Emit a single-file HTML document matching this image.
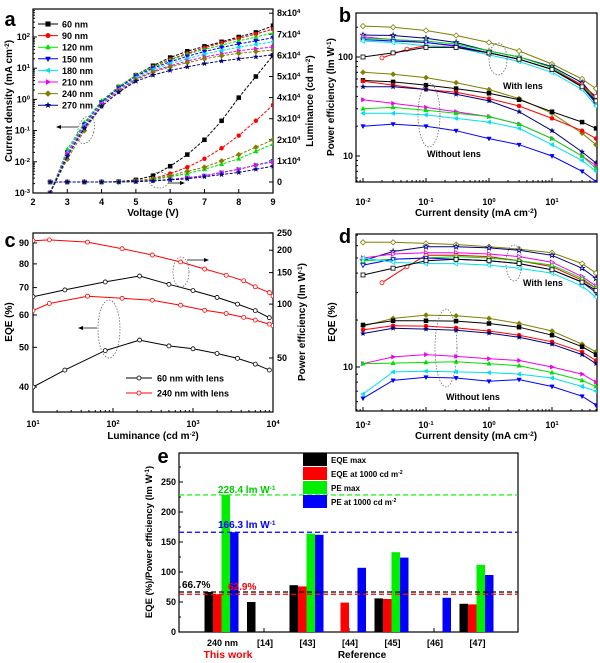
<!DOCTYPE html>
<html><head><meta charset="utf-8"><style>
body{margin:0;background:#fff;}
svg{display:block;font-family:"Liberation Sans",Arial,sans-serif;font-weight:bold;}
</style></head><body>
<svg id="fig" width="600" height="663" viewBox="0 0 600 663" xmlns="http://www.w3.org/2000/svg">
<defs>
<clipPath id="ca"><rect x="33" y="9" width="240" height="184"/></clipPath>
<clipPath id="cb"><rect x="356" y="13" width="241" height="169"/></clipPath>
<clipPath id="cc"><rect x="33" y="233" width="240" height="179"/></clipPath>
<clipPath id="cd"><rect x="356" y="234" width="241" height="177"/></clipPath>
</defs>
</svg>
<script>
// ---------- Panel a data ----------
const voltages=[2.5,3,3.5,4,4.5,5,5.5,6,6.5,7,7.5,8,8.5,9];
const thickLabels=["60 nm","90 nm","120 nm","150 nm","180 nm","210 nm","240 nm","270 nm"];
const jv60=[0.001,0.02,0.15,0.8,2.5,6,12,22,35,50,70,100,140,230];
const jv90=[0.001,0.02,0.15,0.8,2.5,6,11,19,30,45,65,90,125,180];
const jv120=[0.001,0.025,0.18,0.9,2.6,6,11,18,28,40,55,75,100,135];
const jv150=[0.001,0.02,0.16,0.8,2.3,5.5,10,16,24,34,46,60,75,95];
const jv180=[0.001,0.02,0.15,0.75,2.1,5,9,14,20,28,37,47,58,70];
const jv210=[0.001,0.018,0.13,0.7,2,4.5,8,12,17,23,29,36,42,48];
const jv240=[0.001,0.012,0.1,0.6,1.8,4.2,7.5,11,15,20,25,30,34,38];
const jv270=[0.001,0.015,0.12,0.6,1.7,3.8,6,8.5,11,14,17,20,23,27];
const lv60=[0,0,0,0,0.02,0.1,0.3,0.75,1.3,2.0,2.9,4.0,5.0,6.0];
const lv90=[0,0,0,0,0,0.05,0.15,0.4,0.7,1.1,1.6,2.2,2.9,3.65];
const lv120=[0,0,0,0,0,0.03,0.1,0.25,0.4,0.6,0.85,1.1,1.45,1.8];
const lv150=[0,0,0,0,0,0.02,0.06,0.12,0.2,0.3,0.45,0.6,0.8,1.0];
const lv180=[0,0,0,0,0,0.02,0.06,0.12,0.2,0.3,0.45,0.6,0.8,1.0];
const lv210=[0,0,0,0,0,0.02,0.06,0.12,0.2,0.3,0.45,0.6,0.8,0.95];
const lv240=[0,0,0,0,0,0.05,0.15,0.3,0.5,0.7,1.0,1.3,1.65,2.0];
const lv270=[0,0,0,0,0,0.02,0.05,0.1,0.15,0.25,0.35,0.45,0.6,0.75];
// ---------- Panel b data (PE, lm/W) ----------
const jStd=[0.01,0.03,0.1,0.3,1,3,10,30,50];
const jRed=[0.02,0.05,0.1,0.3,1,3,10,30,50];
const peOpenOlive=[205,200,185,165,140,115,85,60,48];
const peOpenNavy=[167,165,155,140,115,100,80,55,38];
const peOpenMag=[160,150,140,128,110,95,75,50,35];
const peOpenGreen=[155,150,145,135,115,100,78,52,37];
const peOpenRed=[98,120,130,125,110,95,75,52,40];
const peOpenBlue=[150,145,140,130,110,95,75,50,34];
const peOpenCyan=[145,140,130,125,105,90,70,47,32];
const peOpenBlack=[100,110,125,125,110,95,75,50,36];
const peFillOlive=[70,67,62,55,47,38,27,17,13];
const peFillBlack=[58,56,52,48,43,37,28,22,19];
const peFillRed=[57,52,47,44,38,32,24,18,15];
const peFillNavy=[50,50,47,42,36,28,18,11,8.5];
const peFillMag=[37,34,31,28,25,21,15,10,8];
const peFillGreen=[30,31,29,27,25,21,15,10,7.5];
const peFillCyan=[27,27,26,24,22,19,13,9,7];
const peFillBlue=[20,21,20,18,15,13,10,7,5.5];
// ---------- Panel c data ----------
const lum60=[10,25,80,215,500,1000,2000,3600,6000,9000];
const eqe60=[40,44,49.1,52.1,50.4,49.6,48.3,47,45.5,44];
const pe60=[110,120,133,143.5,129,119,109,100,92,84];
const lum240=[10,16,48,130,310,700,1400,2600,4300,6000,9000,10000];
const eqe240=[61.5,64,66.7,65.9,65.2,63.4,61.6,60.5,59.2,58.3,57,56.5];
const pe240=[226,228.4,222,204,188,172,157,145,135,125,116,111];
// ---------- Panel d data (EQE %) ----------
const eqOpenOlive=[63,63,62,61,59,57,54,46,40];
const eqOpenNavy=[48,55,59,59,58,56,52,43,37];
const eqOpenMag=[50,53,54,54,53,51,47,38,33];
const eqOpenRed=[34.7,44,52,52,51,48,44,36,32];
const eqOpenGreen=[48,49,50,51,50,48,45,37,32];
const eqOpenBlue=[45,49,50,49,48,46,42,35,30];
const eqOpenCyan=[50,47,46,46,45,43,40,33,28];
const eqOpenBlack=[38.9,43,48,49,48,46,42,35,31];
const eqFillOlive=[18.3,20.5,21.5,21.3,20.5,19,17,14,12.5];
const eqFillBlack=[18.6,19.8,19.8,19.7,19,18,16,13.5,12];
const eqFillRed=[17.3,18.4,18.3,17.8,17,16,14.5,12.5,11];
const eqFillNavy=[16.4,17.7,17.5,17.2,16.5,15.5,14,12,10.5];
const eqFillMag=[10.5,11.6,12,11.7,11.3,11,10,9,8];
const eqFillGreen=[10.5,10.6,10.7,10.8,10.5,10.2,9.2,8.2,7.5];
const eqFillCyan=[6.7,9.3,9.4,9.3,9.2,9,8.5,7.5,7];
const eqFillBlue=[6.3,8.2,8.6,8.5,8.1,8.3,7.5,6.5,5.7];
// ---------- Panel e data ----------
const refCats=["240 nm","[14]","[43]","[44]","[45]","[46]","[47]"];
const eqeMax=[66.7,50,78,null,56,null,47];
const eqe1000=[62.9,null,76,49,55,null,46];
const peMax=[228.4,null,164,null,133,null,112];
const pe1000=[166.3,null,162,107,124,57,95];
const refLines=[228.4,166.3,66.7,62.9];

const NS="http://www.w3.org/2000/svg";
const svg=document.getElementById('fig');
function E(tag,attrs,parent,text){const e=document.createElementNS(NS,tag);for(const k in attrs)e.setAttribute(k,attrs[k]);if(text!==undefined)e.textContent=text;(parent||svg).appendChild(e);return e;}
const L10=Math.log10;
// scales
const xA=v=>33+(v-2)*34.29, yAJ=j=>193-(L10(j)+3)*31.2, yAL=l=>182-l*21.1;
const xB=j=>363+(L10(j)+2)*63, yB=p=>156-(L10(p)-1)*99;
const xC=l=>33+(L10(l)-1)*80, yCE=e=>387-L10(e/40)*409, yCP=p=>358-L10(p/50)*179;
const yD=e=>367-L10(e/10)*156;
const yE=v=>632-v*0.6;

function marker(g,type,x,y,r,color,filled){
  const f=filled?color:'#fff';let m;
  if(type==='sq')m=E('rect',{x:x-r,y:y-r,width:2*r,height:2*r},g);
  else if(type==='ci')m=E('circle',{cx:x,cy:y,r:r},g);
  else{let p;
    if(type==='tu')p=[[0,-r*1.2],[r*1.1,r*.8],[-r*1.1,r*.8]];
    else if(type==='td')p=[[0,r*1.2],[r*1.1,-r*.8],[-r*1.1,-r*.8]];
    else if(type==='tl')p=[[-r*1.2,0],[r*.8,-r*1.1],[r*.8,r*1.1]];
    else if(type==='tr')p=[[r*1.2,0],[-r*.8,-r*1.1],[-r*.8,r*1.1]];
    else if(type==='di')p=[[0,-r*1.3],[r*1.3,0],[0,r*1.3],[-r*1.3,0]];
    else {p=[];for(let i=0;i<10;i++){const a=-Math.PI/2+i*Math.PI/5,rr=i%2?r*.5:r*1.3;p.push([rr*Math.cos(a),rr*Math.sin(a)]);}}
    m=E('polygon',{points:p.map(q=>(x+q[0]).toFixed(1)+','+(y+q[1]).toFixed(1)).join(' ')},g);}
  m.setAttribute('fill',f);m.setAttribute('stroke',color);m.setAttribute('stroke-width',filled?0.5:0.8);
  
  
}
function series(name,xs,ys,fx,fy,color,mk,filled,r,clip,dash){
  const g=E('g',{'clip-path':'url(#'+clip+')'});
  
  
  const pts=[];xs.forEach((x,i)=>{if(ys[i]!=null)pts.push([fx(x),fy(ys[i])]);});
  E('polyline',{points:pts.map(p=>p[0].toFixed(1)+','+p[1].toFixed(1)).join(' '),fill:'none',stroke:color,'stroke-width':1,'stroke-dasharray':dash||'none'},g);
  pts.forEach(p=>marker(g,mk,p[0],p[1],r,color,filled));
}
function frame(name,x,y,w,h){const r=E('rect',{x:x,y:y,width:w,height:h,fill:'none',stroke:'#000','stroke-width':1.2});}
function txt(name,x,y,s,size,opt){opt=opt||{};const t=E('text',Object.assign({x:x,y:y,'font-size':size,'text-anchor':opt.anchor||'middle',fill:opt.fill||'#000'},opt.rot?{transform:'rotate(-90 '+x+' '+y+')'}:{}));
  if(Array.isArray(s)){s.forEach(p=>{if(typeof p==='string')E('tspan',{},t,p);else E('tspan',{'baseline-shift':'super','font-size':size*0.65},t,p[0]);});}else t.textContent=s;return t;}
function tick(x1,y1,x2,y2){E('line',{x1:x1,y1:y1,x2:x2,y2:y2,stroke:'#000','stroke-width':1});}
function logMinor(lo,hi,f,axis,pos,dir){for(let d=lo;d<hi;d++)for(let k=2;k<=9;k++){const v=k*Math.pow(10,d);const p=f(v);if(axis==='x'){if(p>pos[1]&&p<pos[2])tick(p,pos[0],p,pos[0]+dir*2);}else{if(p>pos[1]&&p<pos[2])tick(pos[0],p,pos[0]+dir*2,p);}}}

const cols={k:'#000',r:'#f00',g:'#00e000',b:'#0000ff',c:'#00e0f0',m:'#f000f0',o:'#808000',n:'#000080'};

// ================= Panel a =================
txt('panel-label-a',10,26,'a',20,{});
frame('plot-frame-a',33,9,240,184);
[2,3,4,5,6,7,8,9].forEach(v=>{tick(xA(v),193,xA(v),189);txt('x-tick-a',xA(v),205,String(v),9);});
[-3,-2,-1,0,1,2].forEach(d=>{tick(33,yAJ(Math.pow(10,d)),37,yAJ(Math.pow(10,d)));txt('y-tick-a',30,yAJ(Math.pow(10,d))+3,['10',[String(d)]],9,{anchor:'end'});});
logMinor(-3,3,yAJ,'y',[33,9,193],1);
for(let l=0;l<=8;l++){tick(273,yAL(l),269,yAL(l));txt('y2-tick-a',277,yAL(l)+3,l===0?'0':[l+'x10',['4']],9,{anchor:'start'});}
txt('x-axis-title-a',153,216,'Voltage (V)',10);
txt('y-axis-title-a',12,101,['Current density (mA cm',['-2'],')'],10,{rot:1});
txt('y2-axis-title-a',313,101,['Luminance (cd m',['-2'],')'],10,{rot:1});
const aDefs=[[jv60,lv60,'k','sq'],[jv90,lv90,'r','ci'],[jv120,lv120,'g','tu'],[jv150,lv150,'b','td'],[jv180,lv180,'c','tl'],[jv210,lv210,'m','tr'],[jv240,lv240,'o','di'],[jv270,lv270,'n','st']];
aDefs.forEach((d,i)=>{
  series('jv-curve-'+thickLabels[i].replace(' ',''),voltages,d[0],xA,yAJ,cols[d[2]],d[3],true,2,'ca','3,1.5');
  series('lv-curve-'+thickLabels[i].replace(' ',''),voltages,d[1],xA,yAL,cols[d[2]],d[3],true,2,'ca','3,1.5');
  const ly=24+i*11.6;const lg=E('g',{});
  E('line',{x1:38,y1:ly,x2:58,y2:ly,stroke:cols[d[2]],'stroke-width':1},lg);marker(lg,d[3],48,ly,2.3,cols[d[2]],true);
  E('text',{x:62,y:ly+3.5,'font-size':9},lg,thickLabels[i]);
});
E('ellipse',{cx:86,cy:130,rx:8,ry:14,fill:'none',stroke:'#555','stroke-width':.7,'stroke-dasharray':'1.5,1.5',transform:'rotate(15 86 130)'});
E('line',{x1:78,y1:127,x2:58,y2:127,stroke:'#000','stroke-width':.8});E('polygon',{points:'56,127 61,125 61,129'});
E('ellipse',{cx:159,cy:180,rx:10,ry:8,fill:'none',stroke:'#555','stroke-width':.7,'stroke-dasharray':'1.5,1.5'});
E('line',{x1:168,y1:183,x2:183,y2:183,stroke:'#000','stroke-width':.8});E('polygon',{points:'185,183 180,181 180,185'});

// ================= Panel b =================
txt('panel-label-b',345,22,'b',20,{});
frame('plot-frame-b',356,13,241,169);
[-2,-1,0,1].forEach(d=>{const x=xB(Math.pow(10,d));tick(x,182,x,178);txt('x-tick-b',x,205,['10',[String(d)]],9);});
logMinor(-3,2,xB,'x',[182,356,597],-1);
[10,100].forEach(v=>{tick(356,yB(v),360,yB(v));txt('y-tick-b',353,yB(v)+3,String(v),9,{anchor:'end'});});
logMinor(0,3,yB,'y',[356,13,182],1);
txt('x-axis-title-b',476,216,['Current density (mA cm',['-2'],')'],10);
txt('y-axis-title-b',334,97,['Power efficiency (lm W',['-1'],')'],10,{rot:1});
const bOpen=[[peOpenOlive,'o','di',jStd],[peOpenNavy,'n','st',jStd],[peOpenMag,'m','tr',jStd],[peOpenGreen,'g','tu',jStd],[peOpenRed,'r','ci',jRed],[peOpenBlue,'b','td',jStd],[peOpenCyan,'c','tl',jStd],[peOpenBlack,'k','sq',jStd]];
bOpen.forEach(d=>series('pe-with-lens',d[3],d[0],xB,yB,cols[d[1]],d[2],false,2,'cb'));
const bFill=[[peFillOlive,'o','di'],[peFillBlack,'k','sq'],[peFillRed,'r','ci'],[peFillNavy,'n','st'],[peFillMag,'m','tr'],[peFillGreen,'g','tu'],[peFillCyan,'c','tl'],[peFillBlue,'b','td']];
bFill.forEach(d=>series('pe-without-lens',jStd,d[0],xB,yB,cols[d[1]],d[2],true,2,'cb'));
E('ellipse',{cx:498,cy:59,rx:9,ry:16,fill:'none',stroke:'#555','stroke-width':.7,'stroke-dasharray':'1.5,1.5'});
E('ellipse',{cx:429,cy:115,rx:11,ry:32,fill:'none',stroke:'#555','stroke-width':.7,'stroke-dasharray':'1.5,1.5'});
txt('with-lens-label-b',503,89,'With lens',9,{anchor:'start'});
txt('without-lens-label-b',427,157,'Without lens',9,{anchor:'start'});

// ================= Panel c =================
txt('panel-label-c',10,247,'c',20,{});
frame('plot-frame-c',33,233,240,179);
[1,2,3,4].forEach(d=>{const x=xC(Math.pow(10,d));tick(x,412,x,408);txt('x-tick-c',x,427,['10',[String(d)]],9);});
logMinor(1,4,xC,'x',[412,33,273],-1);
[40,50,60,70,80,90].forEach(v=>{tick(33,yCE(v),37,yCE(v));txt('y-tick-c',29,yCE(v)+3,String(v),9,{anchor:'end'});});
[50,100,150,200,250].forEach(v=>{tick(273,yCP(v),269,yCP(v));txt('y2-tick-c',277,yCP(v)+3,String(v),9,{anchor:'start'});});
txt('x-axis-title-c',153,439,['Luminance (cd m',['-2'],')'],10);
txt('y-axis-title-c',12,322,'EQE (%)',10,{rot:1});
txt('y2-axis-title-c',305,322,['Power efficiency (lm W',['-1'],')'],10,{rot:1});
series('eqe-60nm',lum60,eqe60,xC,yCE,'#000','ci',false,2,'cc');
series('pe-60nm',lum60,pe60,xC,yCP,'#000','ci',false,2,'cc');
series('eqe-240nm',lum240,eqe240,xC,yCE,'#f00','ci',false,2,'cc');
series('pe-240nm',lum240,pe240,xC,yCP,'#f00','ci',false,2,'cc');
E('ellipse',{cx:181,cy:272,rx:8,ry:15,fill:'none',stroke:'#555','stroke-width':.7,'stroke-dasharray':'1.5,1.5'});
E('line',{x1:187,y1:260,x2:206,y2:260,stroke:'#000','stroke-width':.8});E('polygon',{points:'209,260 204,258 204,262'});
E('ellipse',{cx:109,cy:329,rx:11,ry:29,fill:'none',stroke:'#555','stroke-width':.7,'stroke-dasharray':'1.5,1.5'});
E('line',{x1:97,y1:328,x2:80,y2:328,stroke:'#000','stroke-width':.8});E('polygon',{points:'78,328 83,326 83,330'});
[['60 nm with lens','#000',378],['240 nm with lens','#f00',393]].forEach(l=>{const g=E('g',{});
 E('line',{x1:126,y1:l[2],x2:152,y2:l[2],stroke:l[1],'stroke-width':1},g);marker(g,'ci',139,l[2],2,l[1],false);E('text',{x:157,y:l[2]+3.5,'font-size':9},g,l[0]);});

// ================= Panel d =================
txt('panel-label-d',345,243,'d',20,{});
frame('plot-frame-d',356,234,241,177);
[-2,-1,0,1].forEach(d=>{const x=xB(Math.pow(10,d));tick(x,411,x,407);txt('x-tick-d',x,428,['10',[String(d)]],9);});
logMinor(-3,2,xB,'x',[411,356,597],-1);
tick(356,yD(10),360,yD(10));txt('y-tick-d',353,yD(10)+3,'10',9,{anchor:'end'});
logMinor(0,2,yD,'y',[356,234,411],1);
txt('x-axis-title-d',476,439,['Current density (mA cm',['-2'],')'],10);
txt('y-axis-title-d',335,322,'EQE (%)',10,{rot:1});
const dOpen=[[eqOpenOlive,'o','di',jStd],[eqOpenNavy,'n','st',jStd],[eqOpenMag,'m','tr',jStd],[eqOpenRed,'r','ci',jRed],[eqOpenGreen,'g','tu',jStd],[eqOpenBlue,'b','td',jStd],[eqOpenCyan,'c','tl',jStd],[eqOpenBlack,'k','sq',jStd]];
dOpen.forEach(d=>series('eqe-with-lens',d[3],d[0],xB,yD,cols[d[1]],d[2],false,2,'cd'));
const dFill=[[eqFillOlive,'o','di'],[eqFillBlack,'k','sq'],[eqFillRed,'r','ci'],[eqFillNavy,'n','st'],[eqFillMag,'m','tr'],[eqFillGreen,'g','tu'],[eqFillCyan,'c','tl'],[eqFillBlue,'b','td']];
dFill.forEach(d=>series('eqe-without-lens',jStd,d[0],xB,yD,cols[d[1]],d[2],true,2,'cd'));
E('ellipse',{cx:514,cy:263,rx:8,ry:18,fill:'none',stroke:'#555','stroke-width':.7,'stroke-dasharray':'1.5,1.5'});
E('ellipse',{cx:446,cy:348,rx:11,ry:39,fill:'none',stroke:'#555','stroke-width':.7,'stroke-dasharray':'1.5,1.5'});
txt('with-lens-label-d',523,286,'With lens',9,{anchor:'start'});
txt('without-lens-label-d',446,400,'Without lens',9,{anchor:'start'});

// ================= Panel e =================
txt('panel-label-e',163,463,'e',20,{});
frame('plot-frame-e',179,453,339,179);
[0,50,100,150,200,250].forEach(v=>{tick(179,yE(v),183,yE(v));txt('y-tick-e',176,yE(v)+3,String(v),9,{anchor:'end'});});
[25,75,125,175,225,275].forEach(v=>tick(179,yE(v),181,yE(v)));
txt('y-axis-title-e',152,542,['EQE (%)/Power efficiency (lm W',['-1'],')'],9.5,{rot:1});
const barCols=['#000','#f00','#00ee00','#0000ff'];
const barSets=[eqeMax,eqe1000,peMax,pe1000];
const barNames=['eqe-max','eqe-1000','pe-max','pe-1000'];
refCats.forEach((c,i)=>{const cx=221.5+i*42.5;
  txt('category-label',cx+1,646,c,9);
  tick(cx,632,cx,628);
  barSets.forEach((s,k)=>{if(s[i]==null)return;const r=E('rect',{x:cx-17+k*8.5,y:yE(s[i]),width:8.5,height:632-yE(s[i]),fill:barCols[k]});
    
    });
});
const lineCols=['#00ee00','#0000ff','#000','#f00'];
refLines.forEach((v,k)=>{const l=E('line',{x1:179,y1:yE(v),x2:518,y2:yE(v),stroke:lineCols[k],'stroke-width':1.2,'stroke-dasharray':'5,3'});});
txt('pe-max-label',218,493,['228.4 lm W',['-1']],10,{anchor:'start',fill:'#00cc00'});
txt('pe-1000-label',218,528,['166.3 lm W',['-1']],10,{anchor:'start',fill:'#0000ff'});
txt('eqe-max-label',182,588,'66.7%',10,{anchor:'start'});
txt('eqe-1000-label',228,590,'62.9%',10,{anchor:'start',fill:'#f00'});
txt('this-work-label',228,658,'This work',10.5,{fill:'#f00'});
txt('reference-label',362,658,'Reference',10);
const legE=[['EQE max',453],['EQE at 1000 cd m',467,'-2'],['PE max',481],['PE at 1000 cd m',495,'-2']];
legE.forEach((l,k)=>{const g=E('g',{});
  E('rect',{x:303,y:l[1],width:24,height:13,fill:barCols[k]},g);
  const t=E('text',{x:331,y:l[1]+10,'font-size':8},g,l[0]);if(l[2])E('tspan',{'baseline-shift':'super','font-size':5},t,l[2]);});
</script>
</body></html>
